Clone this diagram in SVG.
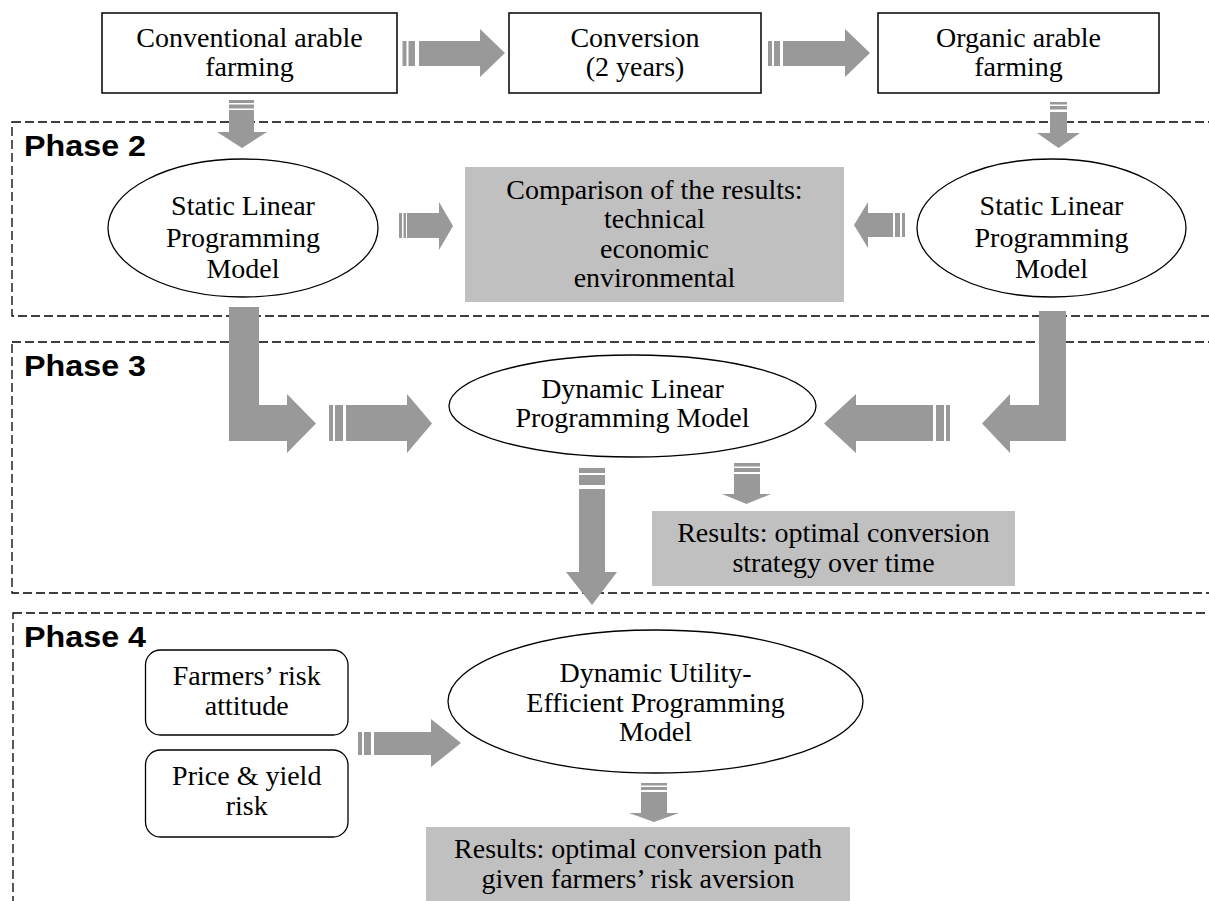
<svg xmlns="http://www.w3.org/2000/svg" width="1209" height="901" viewBox="0 0 1209 901">
<style>
.bg{fill:#ffffff}
.box{fill:#ffffff;stroke:#000;stroke-width:1.5}
.res{fill:#c0c0c0;stroke:none}
.ell{fill:#ffffff;stroke:#000;stroke-width:1.3}
.phase{fill:none;stroke:#000;stroke-width:1.3;stroke-dasharray:9 4}
.t{font-family:"Liberation Serif","Times New Roman",serif;font-size:28px;fill:#000;text-anchor:middle}
.ph{font-family:"Liberation Sans",Arial,sans-serif;font-size:29px;font-weight:bold;fill:#000}
.arr{fill:#999999;stroke:none}
</style>
<rect class="bg" x="0" y="0" width="1209" height="901"/>

<g id="phase2"><rect class="phase" x="12" y="122" width="1230" height="194"/><text class="ph" x="24" y="156" textLength="122" lengthAdjust="spacingAndGlyphs">Phase 2</text></g>
<g id="phase3"><rect class="phase" x="12" y="342" width="1230" height="251"/><text class="ph" x="24" y="376" textLength="122" lengthAdjust="spacingAndGlyphs">Phase 3</text></g>
<g id="phase4"><rect class="phase" x="13" y="613" width="1230" height="320"/><text class="ph" x="24" y="647" textLength="122" lengthAdjust="spacingAndGlyphs">Phase 4</text></g>

<g id="conventional"><rect class="box" x="102" y="13" width="295" height="80"/>
<text class="t" x="249.5" y="47">Conventional arable</text><text class="t" x="249.5" y="76">farming</text></g>
<g id="conversion"><rect class="box" x="509" y="13" width="252" height="80"/>
<text class="t" x="635" y="47">Conversion</text><text class="t" x="635" y="76">(2 years)</text></g>
<g id="organic"><rect class="box" x="878" y="13" width="281" height="80"/>
<text class="t" x="1018.5" y="47">Organic arable</text><text class="t" x="1018.5" y="76">farming</text></g>

<g id="slp-left"><ellipse class="ell" cx="243" cy="228" rx="135" ry="69"/>
<text class="t" x="243" y="215">Static Linear</text><text class="t" x="243" y="247">Programming</text><text class="t" x="243" y="278">Model</text></g>
<g id="comparison"><rect class="res" x="465" y="167" width="379" height="135"/>
<text class="t" x="654.5" y="199">Comparison of the results:</text><text class="t" x="654.5" y="228">technical</text><text class="t" x="654.5" y="258">economic</text><text class="t" x="654.5" y="287">environmental</text></g>
<g id="slp-right"><ellipse class="ell" cx="1051.5" cy="228" rx="134.5" ry="69"/>
<text class="t" x="1051.5" y="215">Static Linear</text><text class="t" x="1051.5" y="247">Programming</text><text class="t" x="1051.5" y="278">Model</text></g>

<g id="dlp"><ellipse class="ell" cx="632.5" cy="406" rx="183.5" ry="51"/>
<text class="t" x="632.5" y="398">Dynamic Linear</text><text class="t" x="632.5" y="427">Programming Model</text></g>
<g id="results3"><rect class="res" x="652" y="511" width="363" height="75"/>
<text class="t" x="833.5" y="542">Results: optimal conversion</text><text class="t" x="833.5" y="572">strategy over time</text></g>

<g id="risk-attitude"><rect class="box" x="145.5" y="650" width="202.5" height="85" rx="15" ry="15" style="stroke-width:1.3"/>
<text class="t" x="246.75" y="685">Farmers’ risk</text><text class="t" x="246.75" y="715">attitude</text></g>
<g id="price-risk"><rect class="box" x="145.5" y="750" width="202.5" height="87" rx="15" ry="15" style="stroke-width:1.3"/>
<text class="t" x="246.75" y="785">Price &amp; yield</text><text class="t" x="246.75" y="815">risk</text></g>
<g id="duep"><ellipse class="ell" cx="655.5" cy="701.5" rx="207.5" ry="71.5"/>
<text class="t" x="655.5" y="682">Dynamic Utility-</text><text class="t" x="655.5" y="712">Efficient Programming</text><text class="t" x="655.5" y="741">Model</text></g>
<g id="results4"><rect class="res" x="426" y="827" width="424" height="74"/>
<text class="t" x="638" y="858">Results: optimal conversion path</text><text class="t" x="638" y="888">given farmers’ risk aversion</text></g>

<g id="connectors">
<rect class="arr" x="402.5" y="41" width="4" height="25"/><rect class="arr" x="408.5" y="41" width="6.5" height="25"/>
<polygon class="arr" points="419,41 480,41 480,29 505,53 480,77 480,66 419,66"/>
<rect class="arr" x="768" y="41" width="4" height="25"/><rect class="arr" x="774" y="41" width="6" height="25"/>
<polygon class="arr" points="783,41 845,41 845,29 870,53 845,77 845,66 783,66"/>
<rect class="arr" x="229" y="100" width="25" height="3"/><rect class="arr" x="229" y="104.5" width="25" height="4"/>
<polygon class="arr" points="229,110 254,110 254,132 267,132 242,148 217,132 229,132"/>
<rect class="arr" x="1050" y="102" width="17" height="2.5"/><rect class="arr" x="1050" y="106" width="17" height="3.5"/>
<polygon class="arr" points="1050,112 1067,112 1067,133 1080,133 1058.5,148 1037,133 1050,133"/>
<rect class="arr" x="399" y="213" width="3" height="25"/><rect class="arr" x="403.5" y="213" width="2.5" height="25"/>
<polygon class="arr" points="407,213 439,213 439,202 453,226 439,250 439,238 407,238"/>
<rect class="arr" x="902" y="213" width="3" height="24"/><rect class="arr" x="895" y="213" width="5" height="24"/>
<polygon class="arr" points="893,213 868,213 868,202 854,225 868,248 868,237 893,237"/>
<polygon class="arr" points="229,307 259,307 259,405 287,405 287,394 316,423.5 287,453 287,441 229,441"/>
<rect class="arr" x="329" y="405" width="4" height="36"/><rect class="arr" x="335" y="405" width="8" height="36"/>
<polygon class="arr" points="346,405 407,405 407,394 432,423.5 407,453 407,441 346,441"/>
<polygon class="arr" points="1039,311 1066,311 1066,441 1010,441 1010,453 982,423.5 1010,394 1010,405 1039,405"/>
<rect class="arr" x="946" y="405" width="4" height="36"/><rect class="arr" x="936" y="405" width="8" height="36"/>
<polygon class="arr" points="933,405 856,405 856,394 824,423.5 856,453 856,441 933,441"/>
<rect class="arr" x="579" y="468" width="26" height="5"/><rect class="arr" x="579" y="475" width="26" height="10"/>
<polygon class="arr" points="579,489 605,489 605,572 617,572 592,605 566,572 579,572"/>
<rect class="arr" x="734" y="463" width="26" height="3.5"/><rect class="arr" x="734" y="468" width="26" height="4"/>
<polygon class="arr" points="734,474 760,474 760,494 771,494 746.5,504 722,494 734,494"/>
<rect class="arr" x="358" y="732" width="4" height="23"/><rect class="arr" x="364" y="732" width="7" height="23"/>
<polygon class="arr" points="374,732 431,732 431,719 461,743 431,767 431,755 374,755"/>
<rect class="arr" x="641" y="783" width="26" height="2.5"/><rect class="arr" x="641" y="787" width="26" height="3"/>
<polygon class="arr" points="641,792 667,792 667,813 679,813 654,822 629,813 641,813"/>
</g>
</svg>
